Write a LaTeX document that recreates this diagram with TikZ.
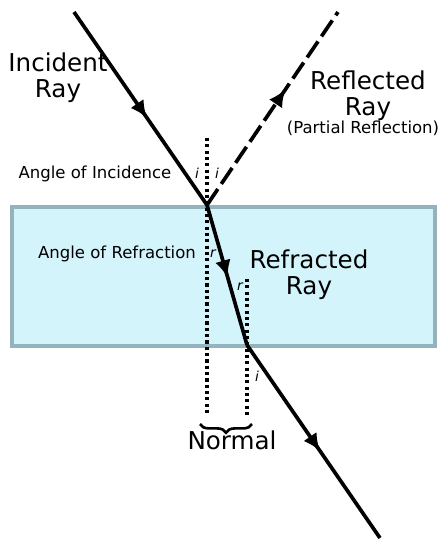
\documentclass[tikz,border=0pt]{standalone}
\usepackage{fontspec}
\setmainfont{DejaVu Sans}
\usetikzlibrary{arrows.meta,decorations.markings,decorations.pathreplacing}
\definecolor{cglass}{HTML}{D4F4FC}
\definecolor{cedge}{HTML}{93B3BE}

\tikzset{
  ray/.style={line width=2.1pt},
  midarrow/.style={postaction={decorate},decoration={markings,
      mark=at position #1 with {\arrow{Latex[length=10pt,width=9pt]}}}},
  normal/.style={line width=2pt,dash pattern=on 1.8pt off 1.8pt},
  bigtxt/.style={font=\fontsize{14}{15}\selectfont,align=center},
  smalltxt/.style={font=\fontsize{9.4}{10}\selectfont},
  angtxt/.style={font=\fontsize{7.8}{8}\selectfont\itshape}
}

\begin{document}
\begin{tikzpicture}[x=0.02cm,y=-0.02cm]
    \useasboundingbox (0,0) rectangle (438,539);
    % glass block
    \draw[cedge,fill=cglass,line width=2.1pt] (12,207) rectangle (435,346);
    % points on the rays
    \coordinate (src) at (74,12);
    \coordinate (hit) at (207,205);
    \coordinate (out) at (247,345);
    \coordinate (dst) at (380,538);
    \coordinate (refl) at (338,12);
    \coordinate (n1top) at (207,138);
    \coordinate (n1bot) at (207,416);
    \coordinate (n2top) at (247,279);
    \coordinate (n2bot) at (247,416);
    % normals
    \draw[normal] (n1top) -- (n1bot);
    \draw[normal] (n2top) -- (n2bot);
    % rays
    \draw[ray,midarrow=0.55] (src) -- (hit);
    \draw[ray,dash pattern=on 11pt off 3.5pt,midarrow=0.6] (hit) -- (refl);
    \draw[ray,midarrow=0.52] (hit) -- (out);
    \draw[ray,midarrow=0.55] (out) -- (dst);
    % brace
    \draw[line width=1.5pt,decorate,decoration={brace,mirror,amplitude=5pt}] (200,424) -- (252,424);
    % labels
    \node[bigtxt] (incid) at (58,78) {Incident\\Ray};
    \node[bigtxt] (reflt) at (368,96) {Reflected\\Ray};
    \node[smalltxt] (partl) at (363,128) {(Partial Reflection)};
    \node[bigtxt] (refrt) at (309,275) {Refracted\\Ray};
    \node[bigtxt] (norml) at (232,440) {Normal};
    \node[smalltxt] (aninc) at (95,174) {Angle of Incidence};
    \node[smalltxt] (anref) at (117,254) {Angle of Refraction};
    \node[angtxt] (i1) at (197,173) {i};
    \node[angtxt] (i2) at (217,173) {i};
    \node[angtxt] (r1) at (213,254) {r};
    \node[angtxt] (r2) at (240,287) {r};
    \node[angtxt] (i3) at (257,376) {i};
\end{tikzpicture}
\end{document}
